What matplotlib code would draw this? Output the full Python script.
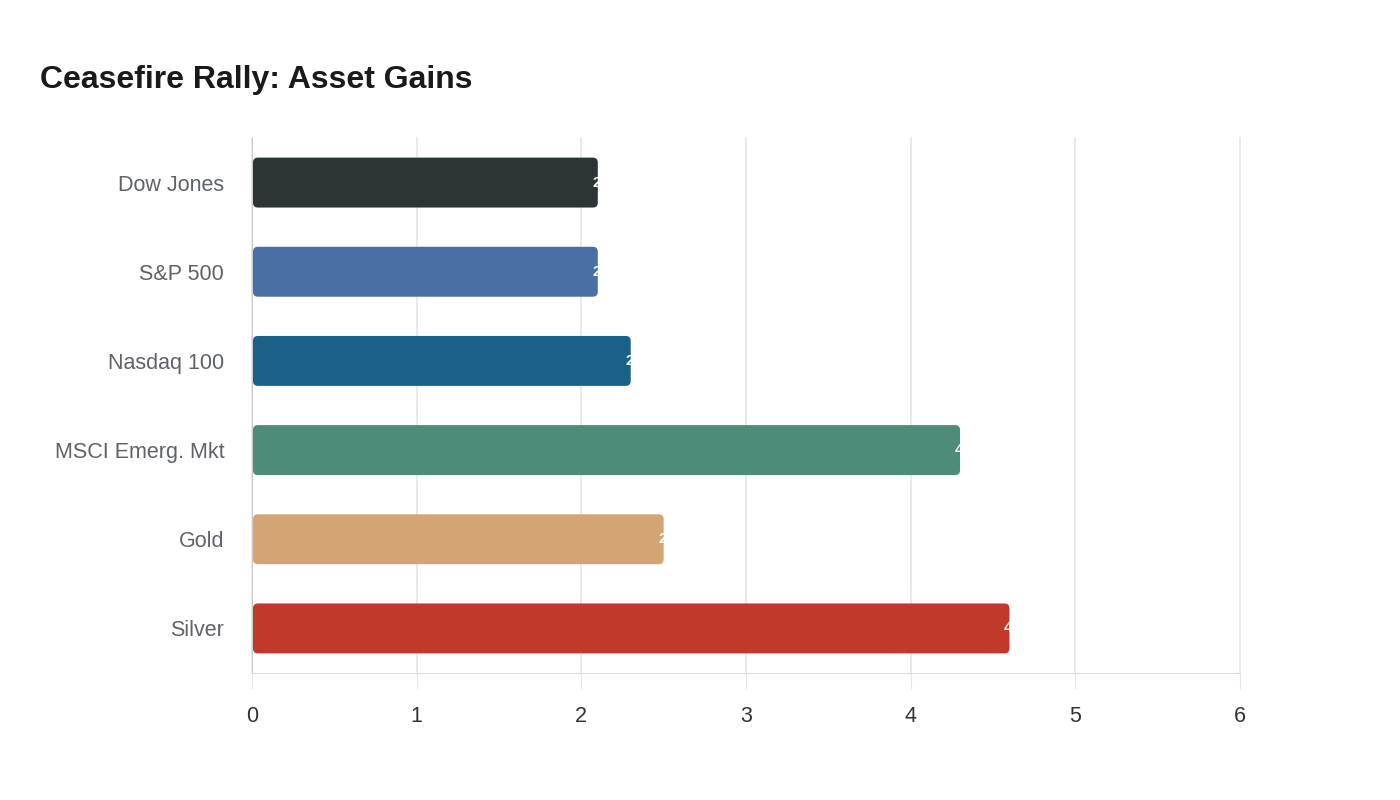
import matplotlib.pyplot as plt
from matplotlib.patches import FancyBboxPatch

plt.rcParams['font.family'] = ['Liberation Sans', 'DejaVu Sans']

assets = ['Dow Jones', 'S&P 500', 'Nasdaq 100', 'MSCI Emerg. Mkt', 'Gold', 'Silver']
gains = [2.1, 2.1, 2.3, 4.3, 2.5, 4.6]
colors = ['#2d3436', '#4a6fa5', '#1a6187', '#4e8c7a', '#d4a574', '#c0392b']

fig = plt.figure(figsize=(14, 8), dpi=100)
ax = fig.add_axes([0.18, 0.15875, 0.7057, 0.66875])

ypos = list(range(len(assets)))
bars = ax.barh(ypos, gains, height=0.56, color=colors, zorder=3)

# swap plain bars for rounded ones
for b, c in zip(bars, colors):
    x0, y0 = b.get_x(), b.get_y()
    w, h = b.get_width(), b.get_height()
    b.set_visible(False)
    p = FancyBboxPatch((x0 + 0.006, y0), w - 0.006, h,
                       boxstyle="round,pad=0,rounding_size=0.03",
                       mutation_aspect=1.85, facecolor=c, edgecolor='none', zorder=3)
    ax.add_patch(p)

for y, v in zip(ypos, gains):
    ax.annotate(f"{v}%", (v, y), xytext=(-4, 0), textcoords='offset points',
                ha='left', va='center', color='white', fontsize=11,
                fontweight='bold', zorder=4)

ax.set_xlim(0, 6)
ax.set_ylim(len(assets) - 0.5, -0.5)
ax.set_yticks(ypos)
ax.set_yticklabels(assets, fontsize=15.5, color='#5f6368')
ax.set_xticks(range(7))
ax.tick_params(axis='x', labelsize=15.5, labelcolor='#333333', length=11.5,
               color='#e6e6e6', pad=12)
ax.tick_params(axis='y', length=0, pad=20)
ax.grid(axis='x', color='#e6e6e6', linewidth=1.2, zorder=0)
for gl in ax.get_xgridlines():
    gl.set_clip_on(False)
for s in ['top', 'right']:
    ax.spines[s].set_visible(False)
ax.spines['left'].set_color('#cccccc')
ax.spines['bottom'].set_color('#dddddd')

fig.text(40 / 1400, 1 - 80 / 800, 'Ceasefire Rally: Asset Gains', fontsize=23,
         fontweight='bold', color='#1a1a1a', va='center', ha='left')

fig.savefig('out.png', dpi=100, facecolor='white')
